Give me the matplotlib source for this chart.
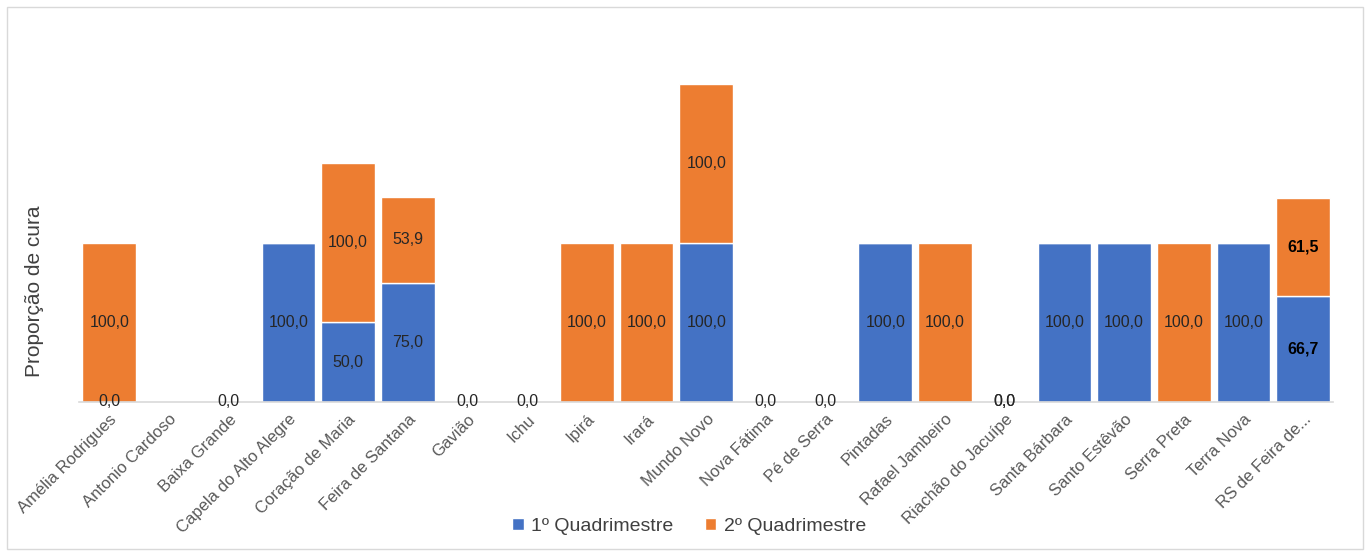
import numpy as np
import matplotlib.pyplot as plt
from matplotlib.patches import Rectangle

plt.rcParams['font.family'] = ['Liberation Sans', 'DejaVu Sans']

# ==========================
# Data
# ==========================
municipios = ["Amélia Rodrigues", "Antonio Cardoso", "Baixa Grande", "Capela do Alto Alegre",
              "Coração de Maria", "Feira de Santana", "Gavião", "Ichu", "Ipirá", "Irará",
              "Mundo Novo", "Nova Fátima", "Pé de Serra", "Pintadas", "Rafael Jambeiro",
              "Riachão do Jacuípe", "Santa Bárbara", "Santo Estêvão", "Serra Preta",
              "Terra Nova", "RS de Feira de..."]
nan = np.nan
q1 = [0.0, nan, 0.0, 100.0, 50.0, 75.0, 0.0, 0.0, nan, nan,
      100.0, 0.0, 0.0, 100.0, nan, 0.0, 100.0, 100.0, nan, 100.0, 66.7]
q2 = [100.0, nan, nan, nan, 100.0, 53.9, nan, nan, 100.0, 100.0,
      100.0, nan, nan, nan, 100.0, 0.0, nan, nan, 100.0, nan, 61.5]
serie_labels = ["1º Quadrimestre", "2º Quadrimestre"]
bold_last = True  # valores da RS em negrito no original

# ==========================
# Plot
# ==========================
azul = "#4472C4"
laranja = "#ED7D31"
txt = "#262626"

fig = plt.figure(figsize=(13.7, 5.56), dpi=100)
ax = fig.add_axes([0.058, 0.277, 0.915, 0.687])

x = np.arange(len(municipios))
a = np.array(q1, dtype=float)
b = np.array(q2, dtype=float)
a0 = np.nan_to_num(a)
b0 = np.nan_to_num(b)
w = 0.9

ax.bar(x, a0, w, color=azul, edgecolor="white", linewidth=1, label=serie_labels[0])
ax.bar(x, b0, w, bottom=a0, color=laranja, edgecolor="white", linewidth=1, label=serie_labels[1])

n = len(municipios)
for i in range(n):
    fw = "bold" if (bold_last and i == n - 1) else "normal"
    cor = txt if fw == "normal" else "black"
    if not np.isnan(a[i]):
        ax.text(x[i], a0[i] / 2, f"{a[i]:.1f}".replace(".", ","), ha="center", va="center",
                fontsize=11.5, color=cor, fontweight=fw)
    if not np.isnan(b[i]):
        ypos = a0[i] + b0[i] / 2
        ax.text(x[i], ypos, f"{b[i]:.1f}".replace(".", ","), ha="center", va="center",
                fontsize=11.5, color=cor, fontweight=fw)

ax.set_xlim(-0.5, n - 0.5)
ax.set_ylim(0, 240)
ax.set_yticks([])
ax.set_xticks(x)
ax.set_xticklabels(municipios, rotation=45, ha="right", rotation_mode="anchor",
                   fontsize=12, color="#595959")
ax.tick_params(axis="x", length=0, pad=7)
for s in ["top", "right", "left"]:
    ax.spines[s].set_visible(False)
ax.spines["bottom"].set_color("#D9D9D9")
ax.spines["bottom"].set_linewidth(1.2)

ax.set_ylabel("Proporção de cura", fontsize=15, color="#404040")
ax.yaxis.set_label_coords(-0.028, 0.29)

fig.legend(loc="lower center", bbox_to_anchor=(0.503, 0.006), ncol=2, frameon=False,
           fontsize=14, handlelength=0.6, handleheight=0.6, handletextpad=0.4,
           columnspacing=1.6, labelcolor="#404040")

# moldura do grafico
fig.patches.append(Rectangle((0.005, 0.012), 0.99, 0.976, transform=fig.transFigure,
                             fill=False, edgecolor="#D9D9D9", linewidth=1))

fig.savefig("out.png", dpi=100)
